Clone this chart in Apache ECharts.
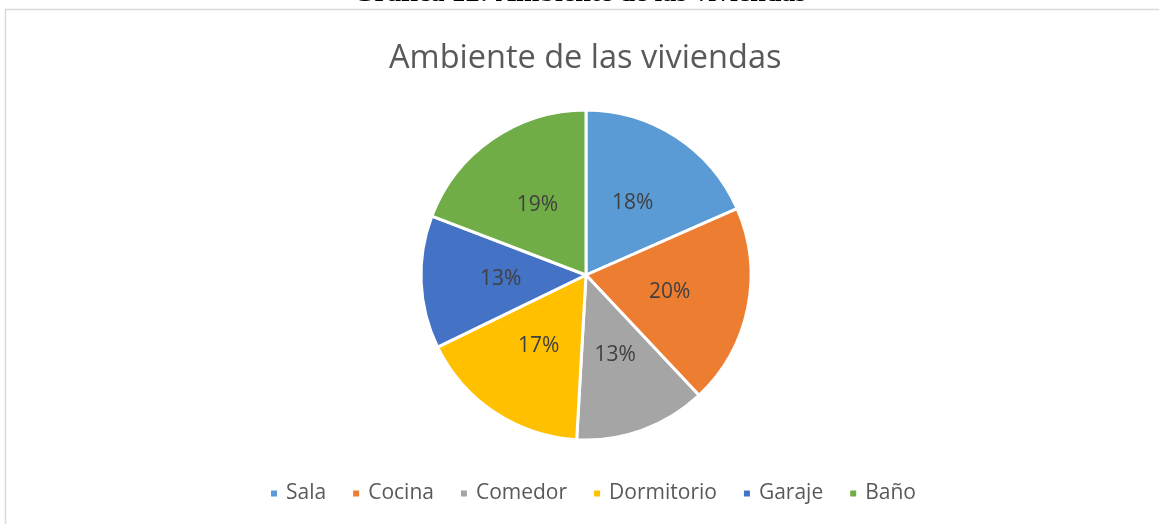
<!DOCTYPE html>
<html>
<head>
<meta charset="utf-8">
<script src="https://cdn.jsdelivr.net/npm/echarts@6/dist/echarts.min.js"></script>
<style>
  html, body { margin: 0; padding: 0; background: #fff; }
  #grafica { width: 1159px; height: 524px; }
</style>
</head>
<body>
<div id="grafica"></div>
<script>
// datos
const categorias = ['Sala', 'Cocina', 'Comedor', 'Dormitorio', 'Garaje', 'Baño'];
const valores = [18.4, 19.6, 12.9, 16.9, 13.0, 19.2];
const colores = ['#5b9bd5', '#ed7d31', '#a5a5a5', '#ffc000', '#4472c4', '#70ad47'];

let chart = echarts.init(document.getElementById('grafica'));
chart.setOption({
    animation: false,
    color: colores,
    title: {
        text: 'Ambiente de las viviendas',
        left: 384,
        top: 37,
        textStyle: {
            fontFamily: 'Open Sans',
            fontSize: 32.5,
            fontWeight: 'normal',
            color: '#595959'
        }
    },
    graphic: [
        {
            type: 'rect',
            shape: { x: 5.5, y: 9.5, width: 1300, height: 700 },
            style: { fill: 'none', stroke: '#d9d9d9', lineWidth: 1.5 },
            silent: true
        },
        {
            type: 'text',
            left: 'center',
            top: -20,
            style: {
                text: 'Gráfica 12: Ambiente de las viviendas',
                font: 'bold 28px "Liberation Serif"',
                fill: '#000'
            }
        }
    ],
    legend: {
        bottom: 15,
        left: 264,
        icon: 'rect',
        itemWidth: 8,
        itemHeight: 8,
        itemGap: 25,
        textStyle: {
            fontFamily: 'Open Sans',
            fontSize: 21,
            color: '#595959',
            padding: [0, 0, 0, 3]
        },
        data: categorias
    },
    series: [
        {
            name: 'Ambiente',
            type: 'pie',
            radius: 165,
            center: [586, 275],
            startAngle: 90,
            clockwise: true,
            itemStyle: { borderColor: '#fff', borderWidth: 3 },
            label: {
                position: 'inside',
                fontFamily: 'Open Sans',
                fontSize: 21,
                color: '#404040',
                formatter: function (p) { return Math.round(p.percent) + '%'; }
            },
            labelLine: { show: false },
            emphasis: { disabled: true },
            data: categorias.map(function (c, i) { return { name: c, value: valores[i] }; })
        }
    ]
});
</script>
</body>
</html>
